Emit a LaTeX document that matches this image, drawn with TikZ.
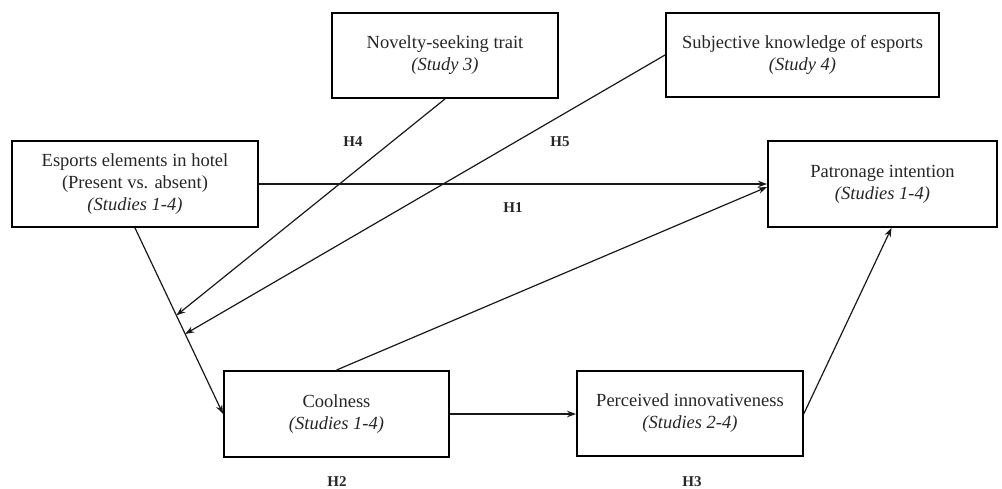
\documentclass[tikz,border=0pt]{standalone}
\usepackage{fontspec}
\setmainfont{Liberation Serif}
\usetikzlibrary{arrows.meta,calc}

\tikzset{
  box/.style={draw=black, line width=1.9pt, align=center, inner sep=0pt,
    text=black!85, font=\fontsize{18.5}{22}\selectfont},
  link/.style={draw=black!90, line width=1.2pt,
    -{Stealth[length=9pt,width=6.5pt]}},
  hyp/.style={font=\fontsize{15}{17}\selectfont\bfseries, text=black!85,
    inner sep=0pt, anchor=base}
}

\begin{document}
\begin{tikzpicture}[x=1pt, y=-1pt]
  \useasboundingbox (0,0) rectangle (1002,489);

  % constructs
  \node[box, minimum width=246pt, minimum height=86pt] (esp) at (135,184)
    {Esports elements in hotel\\(Present vs. absent)\\\textit{(Studies 1-4)}};
  \node[box, minimum width=229pt, minimum height=86pt] (pat) at (882.5,184)
    {Patronage intention\\\textit{(Studies 1-4)}};
  \node[box, minimum width=226pt, minimum height=85pt] (nov) at (445,55.5)
    {Novelty-seeking trait\\\textit{(Study 3)}};
  \node[box, minimum width=273pt, minimum height=84pt] (sub) at (802.5,55)
    {Subjective knowledge of esports\\\textit{(Study 4)}};
  \node[box, minimum width=225pt, minimum height=86pt] (cool) at (336.5,414)
    {Coolness\\\textit{(Studies 1-4)}};
  \node[box, minimum width=226pt, minimum height=85pt] (per) at (690,413.5)
    {Perceived innovativeness\\\textit{(Studies 2-4)}};

  % points where the moderators meet the esports -> coolness path
  \coordinate (m4) at ($(esp.south)!0.47!(cool.west)$);
  \coordinate (m5) at ($(esp.south)!0.57!(cool.west)$);
  \coordinate (patlow) at ($(pat.west)+(0,3)$);
  \coordinate (patbot) at ($(pat.south)+(9,0)$);

  % paths
  \draw[link] (esp.east) -- (esp.east -| pat.west);
  \draw[link] (esp.south) -- (cool.west);
  \draw[link] (nov.south) -- (m4);
  \draw[link] (sub.west) -- (m5);
  \draw[link] (cool.north) -- (patlow);
  \draw[link] (cool.east) -- (cool.east -| per.west);
  \draw[link] (per.east) -- (patbot);

  % hypothesis labels
  \node[hyp] (h1) at (513,213) {H1};
  \node[hyp] (h2) at (337,486) {H2};
  \node[hyp] (h3) at (692,486) {H3};
  \node[hyp] (h4) at (353,147) {H4};
  \node[hyp] (h5) at (560,147) {H5};
\end{tikzpicture}
\end{document}
